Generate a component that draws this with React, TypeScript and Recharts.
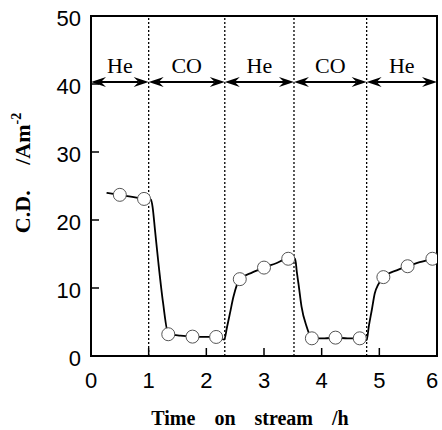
import React from 'react';
import {
  ComposedChart,
  Line,
  Scatter,
  XAxis,
  YAxis,
  ReferenceLine,
  ReferenceArea,
  Customized,
} from 'recharts';

// Smooth response curve (time on stream /h, current density /A m^-2)
const curveTime = [
  0.27, 0.5, 0.92, 1.04, 1.07, 1.11, 1.17, 1.25, 1.34, 1.55, 1.76, 2.0, 2.17, 2.31,
  2.36, 2.41, 2.47, 2.58, 2.8, 3.0, 3.2, 3.42, 3.54, 3.57, 3.6, 3.65, 3.74, 3.83,
  4.05, 4.24, 4.45, 4.66, 4.78, 4.82, 4.87, 4.92, 4.98, 5.07, 5.3, 5.49, 5.7, 5.92,
];
const curveCD = [
  24.0, 23.7, 23.1, 23.0, 21.8, 18.5, 13.6, 7.8, 3.3, 3.0, 2.85, 2.8, 2.8, 2.4,
  4.3, 6.3, 8.7, 11.3, 12.3, 13.0, 13.6, 14.3, 14.3, 12.3, 10.5, 7.3, 4.3, 2.6,
  2.6, 2.7, 2.6, 2.6, 2.35, 4.5, 6.8, 9.2, 10.5, 11.6, 12.6, 13.2, 13.8, 14.3,
];

// Measured points (open circles)
const pointTime = [0.5, 0.92, 1.34, 1.76, 2.17, 2.58, 3.0, 3.42, 3.83, 4.24, 4.66, 5.07, 5.49, 5.92];
const pointCD = [23.7, 23.1, 3.2, 2.85, 2.8, 11.3, 13.0, 14.3, 2.6, 2.7, 2.6, 11.6, 13.2, 14.3];

// Gas feed periods
const phaseBounds = [0, 1.0, 2.32, 3.52, 4.78, 6];
const phaseGas = ['He', 'CO', 'He', 'CO', 'He'];
const arrowLevel = 40.3;

const xTicks = [0, 1, 2, 3, 4, 5, 6];
const yTicks = [0, 10, 20, 30, 40, 50];

const curveData = curveTime.map((t, i) => ({ t, cd: curveCD[i] }));
const pointData = pointTime.map((t, i) => ({ t, cd: pointCD[i] }));

const SERIF = '"Liberation Serif", "Times New Roman", serif';
const SANS = '"Liberation Sans", Arial, Helvetica, sans-serif';

const TICK_LEN = 8;
const X_MARGIN = 15;
const Y_MARGIN = 10;

// Bottom axis tick: inward tick mark plus label below the axis
const XTick = (props: any) => {
  const { x, y, payload, index } = props;
  const axisY = y - X_MARGIN;
  const isLast = index === xTicks.length - 1 || payload.value === xTicks[xTicks.length - 1];
  return (
    <g>
      <line x1={x} y1={axisY} x2={x} y2={axisY - TICK_LEN} stroke="#000" strokeWidth={1.5} />
      <text
        x={isLast ? x - 5 : x}
        y={y}
        dy="0.75em"
        textAnchor="middle"
        fontFamily={SANS}
        fontSize={22}
        fill="#000"
      >
        {payload.value}
      </text>
    </g>
  );
};

// Left axis tick: inward tick mark plus right-aligned label
const YTick = (props: any) => {
  const { x, y, payload } = props;
  const axisX = x + Y_MARGIN;
  return (
    <g>
      <line x1={axisX} y1={y} x2={axisX + TICK_LEN} y2={y} stroke="#000" strokeWidth={1.5} />
      <text
        x={x}
        y={y}
        dy="0.45em"
        textAnchor="end"
        fontFamily={SANS}
        fontSize={22}
        fill="#000"
      >
        {payload.value}
      </text>
    </g>
  );
};

const makeArrow = (text: string) => (props: any) => {
  const { x1, y1, x2 } = props;
  const y = y1;
  const left = Math.min(x1, x2);
  const right = Math.max(x1, x2);
  const L = 15; // head length
  const H = 5; // head half-height
  const N = 10; // notch depth
  return (
    <g>
      <line x1={left + N} y1={y} x2={right - N} y2={y} stroke="#000" strokeWidth={2} />
      <polygon
        points={`${left},${y} ${left + L},${y - H} ${left + N},${y} ${left + L},${y + H}`}
        fill="#000"
      />
      <polygon
        points={`${right},${y} ${right - L},${y - H} ${right - N},${y} ${right - L},${y + H}`}
        fill="#000"
      />
      <text
        x={(left + right) / 2}
        y={y - 9}
        textAnchor="middle"
        fontFamily={SERIF}
        fontSize={22}
        fill="#000"
      >
        {text}
      </text>
    </g>
  );
};

const Circle = (props: any) => {
  const { cx, cy } = props;
  return <circle cx={cx} cy={cy} r={6.5} fill="#fff" stroke="#555" strokeWidth={1} />;
};

const Titles = () => (
  <g>
    <text
      x={250}
      y={425}
      textAnchor="middle"
      fontFamily={SERIF}
      fontWeight="bold"
      fontSize={20}
      fill="#000"
      style={{ wordSpacing: '14px' }}
    >
      Time on stream /h
    </text>
    <text
      transform="translate(30,173) rotate(-90)"
      textAnchor="middle"
      fontFamily={SERIF}
      fontWeight="bold"
      fontSize={22}
      fill="#000"
      style={{ wordSpacing: '20px' }}
    >
      C.D. /Am
      <tspan fontSize={14} dy={-9}>
        -2
      </tspan>
    </text>
  </g>
);

export default function App() {
  return (
    <div style={{ position: 'absolute', left: 0, top: 0 }}>
      <ComposedChart
        width={442}
        height={430}
        margin={{ top: 16, right: 5, bottom: 44, left: 31 }}
      >
        <XAxis
          type="number"
          dataKey="t"
          domain={[0, 6]}
          ticks={xTicks}
          allowDataOverflow
          height={30}
          tickSize={0}
          tickMargin={X_MARGIN}
          axisLine={{ stroke: '#000', strokeWidth: 2 }}
          tickLine={false}
          tick={<XTick />}
        />
        <YAxis
          type="number"
          dataKey="cd"
          domain={[0, 50]}
          ticks={yTicks}
          allowDataOverflow
          width={60}
          tickSize={0}
          tickMargin={Y_MARGIN}
          axisLine={{ stroke: '#000', strokeWidth: 2 }}
          tickLine={false}
          tick={<YTick />}
        />
        <ReferenceArea
          x1={0}
          x2={6}
          y1={0}
          y2={50}
          fill="none"
          fillOpacity={0}
          stroke="#000"
          strokeWidth={2}
        />
        {phaseBounds.slice(1, -1).map((b) => (
          <ReferenceLine
            key={`sw-${b}`}
            x={b}
            stroke="#000"
            strokeWidth={1.3}
            strokeDasharray="2 2"
          />
        ))}
        {phaseGas.map((gas, i) => (
          <ReferenceLine
            key={`ph-${i}`}
            segment={[
              { x: phaseBounds[i], y: arrowLevel },
              { x: phaseBounds[i + 1], y: arrowLevel },
            ]}
            shape={makeArrow(gas)}
          />
        ))}
        <Line
          data={curveData}
          dataKey="cd"
          type="monotone"
          stroke="#000"
          strokeWidth={1.8}
          dot={false}
          activeDot={false}
          isAnimationActive={false}
        />
        <Scatter
          data={pointData}
          dataKey="cd"
          shape={<Circle />}
          isAnimationActive={false}
        />
        <Customized component={Titles} />
      </ComposedChart>
    </div>
  );
}
